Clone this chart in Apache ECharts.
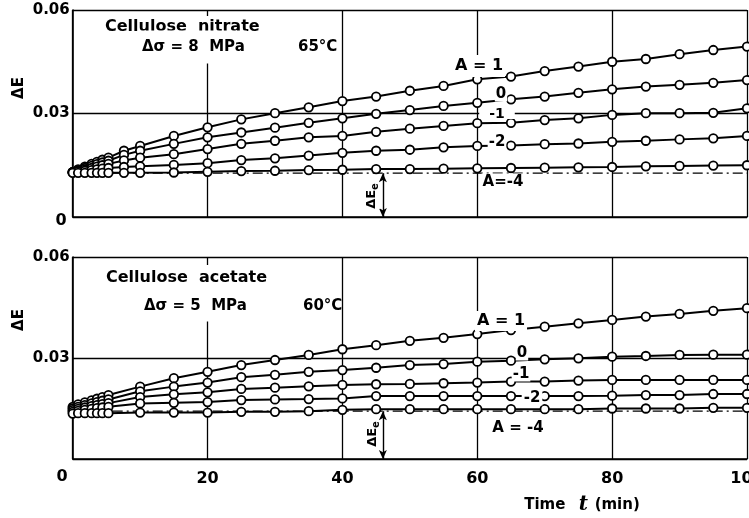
<!DOCTYPE html>
<html><head><meta charset="utf-8">
<script src="https://cdn.jsdelivr.net/npm/echarts@6/dist/echarts.min.js"></script>
<style>html,body{margin:0;padding:0;background:#fff}#c{width:749px;height:518px}</style>
</head><body><div id="c"></div>
<script>
// ---- data ----
const tTop = [0,0.8,1.8,2.8,3.6,4.4,5.3,7.6,10,15,20,25,30,35,40,45,50,55,60,65,70,75,80,85,90,95,100];
const topA1  = [0.013,0.0138,0.0146,0.0154,0.016,0.0166,0.0172,0.0192,0.0206,0.0235,0.026,0.0283,0.0301,0.0318,0.0336,0.0349,0.0366,0.038,0.0399,0.0407,0.0423,0.0436,0.045,0.0458,0.0472,0.0484,0.0494];
const topA0  = [0.013,0.0136,0.0142,0.0148,0.0153,0.0158,0.0163,0.018,0.0192,0.0212,0.0231,0.0245,0.0259,0.0273,0.0286,0.0299,0.031,0.0322,0.0331,0.0341,0.0349,0.036,0.037,0.0378,0.0383,0.0389,0.0397];
const topAm1 = [0.013,0.0134,0.0138,0.0142,0.0146,0.015,0.0154,0.0164,0.0172,0.0182,0.0197,0.0212,0.0221,0.0231,0.0235,0.0247,0.0256,0.0264,0.0272,0.0273,0.0281,0.0286,0.0296,0.0301,0.0301,0.0302,0.0315];
const topAm2 = [0.013,0.0132,0.0134,0.0136,0.0138,0.014,0.0142,0.0145,0.0147,0.0151,0.0156,0.0165,0.017,0.0178,0.0186,0.0192,0.0195,0.0202,0.0206,0.0207,0.0211,0.0213,0.0218,0.0221,0.0225,0.0228,0.0235];
const topAm4 = [0.0128,0.0128,0.0128,0.0128,0.0128,0.0128,0.0128,0.0128,0.0128,0.0129,0.0131,0.0133,0.0134,0.0136,0.0137,0.0139,0.0139,0.014,0.0141,0.0142,0.0143,0.0144,0.0145,0.0147,0.0148,0.0149,0.015];
const topEq = 0.0127;

const tBot = [0,0.8,1.8,2.8,3.6,4.4,5.3,10,15,20,25,30,35,40,45,50,55,60,65,70,75,80,85,90,95,100];
const botA1  = [0.0155,0.0162,0.0168,0.0174,0.0179,0.0184,0.019,0.0215,0.024,0.0259,0.0279,0.0294,0.0309,0.0326,0.0338,0.0351,0.036,0.0371,0.0383,0.0393,0.0403,0.0413,0.0423,0.0431,0.044,0.0448];
const botA0  = [0.015,0.0155,0.016,0.0165,0.0169,0.0173,0.0177,0.0201,0.0215,0.0227,0.0243,0.025,0.0259,0.0264,0.0271,0.0279,0.0282,0.0289,0.0292,0.0296,0.0299,0.0304,0.0306,0.0309,0.031,0.031];
const botAm1 = [0.0145,0.0149,0.0153,0.0157,0.016,0.0163,0.0166,0.0184,0.0192,0.0198,0.0208,0.0212,0.0216,0.022,0.0222,0.0223,0.0225,0.0227,0.023,0.023,0.0233,0.0235,0.0235,0.0235,0.0235,0.0235];
const botAm2 = [0.014,0.0143,0.0146,0.0149,0.0151,0.0153,0.0155,0.0165,0.0167,0.0169,0.0175,0.0177,0.0178,0.018,0.0187,0.0187,0.0187,0.0187,0.0187,0.0187,0.0187,0.0188,0.019,0.019,0.0193,0.0193];
const botAm4 = [0.0135,0.0136,0.0136,0.0136,0.0136,0.0136,0.0136,0.0138,0.0138,0.0138,0.014,0.014,0.0142,0.0146,0.0148,0.0148,0.0148,0.0148,0.0148,0.0148,0.0148,0.015,0.015,0.015,0.0152,0.0152];
const botEq = 0.0142;

const xTicks = [0,20,40,60,80,100];
const yTicks = [0,0.03,0.06];
const eqArrowT = 46;

// ---- chart ----
const FONT = '"DejaVu Sans", sans-serif';
const chart = echarts.init(document.getElementById('c'), null, {renderer:'canvas'});

function curve(name, t, v, idx) {
  return {
    type:'line', name, xAxisIndex:idx, yAxisIndex:idx,
    data: t.map((x,i)=>[x, v[i]]),
    symbol:'circle', symbolSize:8.5, showAllSymbol:true,
    lineStyle:{color:'#000', width:2},
    itemStyle:{color:'#fff', borderColor:'#000', borderWidth:1.8},
    z:3, animation:false, silent:true
  };
}
function eqLine(v, idx) {
  return {
    type:'line', xAxisIndex:idx, yAxisIndex:idx,
    data:[[xTicks[0], v],[xTicks[xTicks.length-1], v]],
    symbol:'none',
    lineStyle:{color:'#000', width:1.2, type:[10,4,2,4]},
    z:2, animation:false, silent:true,
    markLine:{
      silent:true, symbol:['arrow','arrow'], symbolSize:[6,9],
      lineStyle:{color:'#000', width:1.4, type:'solid'},
      label:{show:false},
      data:[[{coord:[eqArrowT, v]},{coord:[eqArrowT, 0]}]],
      animation:false
    }
  };
}

function xAx(idx, showLabels){
  return {
    type:'value', gridIndex:idx, min:xTicks[0], max:xTicks[xTicks.length-1], interval:20,
    axisLine:{show:true, lineStyle:{color:'#000', width:1.6}},
    axisTick:{show:false},
    axisLabel:{show:showLabels, color:'#000', fontFamily:FONT, fontWeight:'bold', fontSize:16, margin:12,
      formatter:v=> v===0 ? '' : String(v)},
    splitLine:{show:true, lineStyle:{color:'#000', width:1.3}}
  };
}
function yAx(idx){
  return {
    type:'value', gridIndex:idx, min:yTicks[0], max:yTicks[yTicks.length-1], interval:0.03,
    axisLine:{show:true, lineStyle:{color:'#000', width:1.6}},
    axisTick:{show:false},
    axisLabel:{color:'#000', fontFamily:FONT, fontWeight:'bold', fontSize:15, margin:3,
      formatter:v=> v===0 ? '' : v.toFixed(2)},
    splitLine:{show:true, lineStyle:{color:'#000', width:1.3}}
  };
}

function txt(text, x, y, opts) {
  opts = opts || {};
  return {
    type:'text', x, y, z:100, rotation: opts.rot || 0, silent:true,
    style: Object.assign({
      text, fill:'#000',
      font: 'bold ' + (opts.size||16) + 'px ' + FONT,
      textAlign: opts.align || 'center', align: opts.align || 'center',
      textVerticalAlign:'middle', verticalAlign:'middle',
      backgroundColor: opts.bg ? '#fff' : null,
      padding: opts.bg ? (opts.pad || [1,2]) : 0
    }, opts.style || {})
  };
}
function eqLabel(x, y) {
  return {type:'text', x, y, z:100, rotation:Math.PI/2, silent:true, style:{
    text:'{a|ΔE}{b|e}', align:'center', verticalAlign:'middle', textAlign:'center', textVerticalAlign:'middle',
    backgroundColor:'#fff',
    rich:{a:{fontFamily:FONT, fontWeight:'bold', fontSize:13, fill:'#000', color:'#000'},
          b:{fontFamily:FONT, fontWeight:'bold', fontSize:10, fill:'#000', color:'#000', padding:[6,0,0,0]}}
  }};
}

const option = {
  backgroundColor:'#fff',
  animation:false,
  grid:[
    {left:72.7, right:2, top:10, height:207, containLabel:false, outerBoundsMode:'none'},
    {left:72.7, right:2, top:257, height:202, containLabel:false, outerBoundsMode:'none'}
  ],
  xAxis:[xAx(0,false), xAx(1,true)],
  yAxis:[yAx(0), yAx(1)],
  series:[
    eqLine(topEq,0),
    curve('A=1',tTop,topA1,0), curve('A=0',tTop,topA0,0), curve('A=-1',tTop,topAm1,0),
    curve('A=-2',tTop,topAm2,0), curve('A=-4',tTop,topAm4,0),
    eqLine(botEq,1),
    curve('A=1',tBot,botA1,1), curve('A=0',tBot,botA0,1), curve('A=-1',tBot,botAm1,1),
    curve('A=-2',tBot,botAm2,1), curve('A=-4',tBot,botAm4,1)
  ],
  graphic:[
    // axis names & zero labels
    txt('ΔE', 19, 88, {rot:Math.PI/2, size:15}),
    txt('ΔE', 19, 320, {rot:Math.PI/2, size:15}),
    txt('0', 61, 221, {size:16}),
    txt('0', 62, 477, {size:16}),
    {type:'text', x:582, y:505, z:100, silent:true, style:{
      text:'{a|Time}    {b|t}  {a|(min)}', align:'center', verticalAlign:'middle', textAlign:'center', textVerticalAlign:'middle',
      rich:{a:{fontFamily:FONT, fontWeight:'bold', fontSize:15, fill:'#000', color:'#000'},
            b:{fontFamily:'"DejaVu Serif", serif', fontStyle:'italic', fontWeight:'bold', fontSize:20, fill:'#000', color:'#000'}}
    }},
    // top panel annotations
    txt('Cellulose  nitrate', 103, 27, {align:'left', size:16, bg:true, pad:[2,2,4,2]}),
    txt('Δσ = 8  MPa', 140, 47, {align:'left', size:15, bg:true, pad:[4,2,14,2]}),
    txt('65°C', 298, 47, {align:'left', size:15}),
    txt('A = 1', 479, 66, {size:16, bg:true, pad:[3,2,3,2]}),
    txt('0', 501, 94, {size:15, bg:true, pad:[0,1]}),
    txt('-1', 497, 114, {size:14, bg:true, pad:[-2,10]}),
    txt('-2', 497, 142, {size:15, bg:true, pad:[0,1]}),
    txt('A=-4', 503, 182, {size:15, bg:true, pad:[1,1]}),
    eqLabel(372, 196),
    // bottom panel annotations
    txt('Cellulose  acetate', 104, 278, {align:'left', size:16, bg:true, pad:[6,2,4,2]}),
    txt('Δσ = 5  MPa', 142, 306, {align:'left', size:15, bg:true, pad:[4,2,12,2]}),
    txt('60°C', 303, 306, {align:'left', size:15}),
    txt('A = 1', 501, 321, {size:16, bg:true, pad:[2,2]}),
    txt('0', 522, 353, {size:15, bg:true, pad:[0,1]}),
    txt('-1', 521, 374, {size:15, bg:true, pad:[0,1]}),
    txt('-2', 532, 398, {size:15, bg:true, pad:[0,2]}),
    txt('A = -4', 518, 428, {size:15, bg:true, pad:[1,1]}),
    eqLabel(373, 434)
  ]
};
chart.setOption(option);
</script></body></html>
